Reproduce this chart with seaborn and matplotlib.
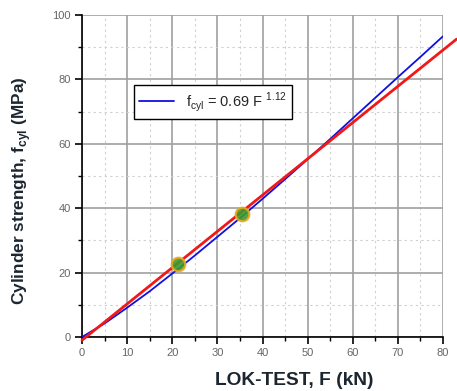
import matplotlib
matplotlib.use("Agg")
import matplotlib.pyplot as plt
import seaborn as sns
import pandas as pd
from matplotlib.ticker import MultipleLocator

# Data
fit_F = [0, 5, 10, 15, 20, 25, 30, 35, 40, 45, 50, 55, 60, 65, 70, 75, 80]
fit_fcyl = [0, 4.2, 9.1, 14.2, 19.7, 25.3, 31.1, 36.9, 42.9, 49.0, 55.2, 61.5, 67.9, 74.3, 80.7, 87.0, 93.4]
line_F = [0, 83]
line_fcyl = [-1.0, 92.5]
pts_F = [21.2, 35.5]
pts_fcyl = [22.8, 38.3]

x_ticks = [0, 10, 20, 30, 40, 50, 60, 70, 80]
y_ticks = [0, 20, 40, 60, 80, 100]

sns.set_style("white")
plt.rcParams['font.family'] = ['Liberation Sans', 'DejaVu Sans']
plt.rcParams['mathtext.fontset'] = 'custom'
plt.rcParams['mathtext.rm'] = 'Liberation Sans'
plt.rcParams['mathtext.bf'] = 'Liberation Sans:bold'

fig = plt.figure(figsize=(4.57, 3.91), dpi=100)
ax = fig.add_axes([82/457, 1-337/391, (443-82)/457, (337-15)/391])

df_fit = pd.DataFrame({"F": fit_F, "fcyl": fit_fcyl})
df_line = pd.DataFrame({"F": line_F, "fcyl": line_fcyl})
df_pts = pd.DataFrame({"F": pts_F, "fcyl": pts_fcyl})

ax.set_xlim(0, 80)
ax.set_ylim(0, 100)
ax.xaxis.set_major_locator(MultipleLocator(10))
ax.xaxis.set_minor_locator(MultipleLocator(5))
ax.yaxis.set_major_locator(MultipleLocator(20))
ax.yaxis.set_minor_locator(MultipleLocator(10))
ax.grid(which="major", color="#a0a0a0", linewidth=1.2, linestyle="-", zorder=0)
ax.grid(which="minor", color="#cfcfcf", linewidth=0.8, linestyle=(0, (2, 3)), zorder=0)
ax.set_axisbelow(True)

sns.lineplot(data=df_fit, x="F", y="fcyl", ax=ax, color="#1010e0", linewidth=1.3,
             label=r"f$_{\mathrm{cyl}}$ = 0.69 F $^{\mathrm{1.12}}$", zorder=3)
sns.lineplot(data=df_line, x="F", y="fcyl", ax=ax, color="#f01818", linewidth=2.0,
             zorder=4, legend=False, clip_on=False)
sns.scatterplot(data=df_pts, x="F", y="fcyl", ax=ax, s=95, color="#3d9a2c",
                edgecolor="#e8a820", linewidth=1.6, alpha=0.9, zorder=5, legend=False)

for s in ["top", "right"]:
    ax.spines[s].set_visible(False)
for s in ["left", "bottom"]:
    ax.spines[s].set_color("black")
    ax.spines[s].set_linewidth(1.2)

ax.set_xticks(x_ticks)
ax.set_yticks(y_ticks)
ax.tick_params(which="major", direction="out", length=5, width=1.2, color="black",
               labelsize=8, labelcolor="#666666", bottom=True, left=True, pad=3)
ax.tick_params(which="minor", direction="out", length=3, width=1.0, color="black",
               bottom=True, left=True)

ax.set_xlabel("LOK-TEST, F (kN)", fontsize=13.8, fontweight="bold", color="#1c2630")
ax.set_ylabel(r"Cylinder strength, f$_{\mathbf{cyl}}$ (MPa)", fontsize=12.4, fontweight="bold",
              color="#1c2630")
ax.xaxis.set_label_coords((294-82)/361, -(372-337)/322)
ax.yaxis.set_label_coords(-(82-33)/361, (337-191)/322)

leg = ax.legend(loc="upper left", bbox_to_anchor=((134-82)/361, (337-85)/322),
                borderaxespad=0, frameon=True, fancybox=False, edgecolor="black",
                fontsize=10.5, handlelength=2.4, handletextpad=0.8, borderpad=0.35,
                framealpha=1)
leg.get_frame().set_linewidth(1.0)

fig.savefig("out.png", dpi=100)
